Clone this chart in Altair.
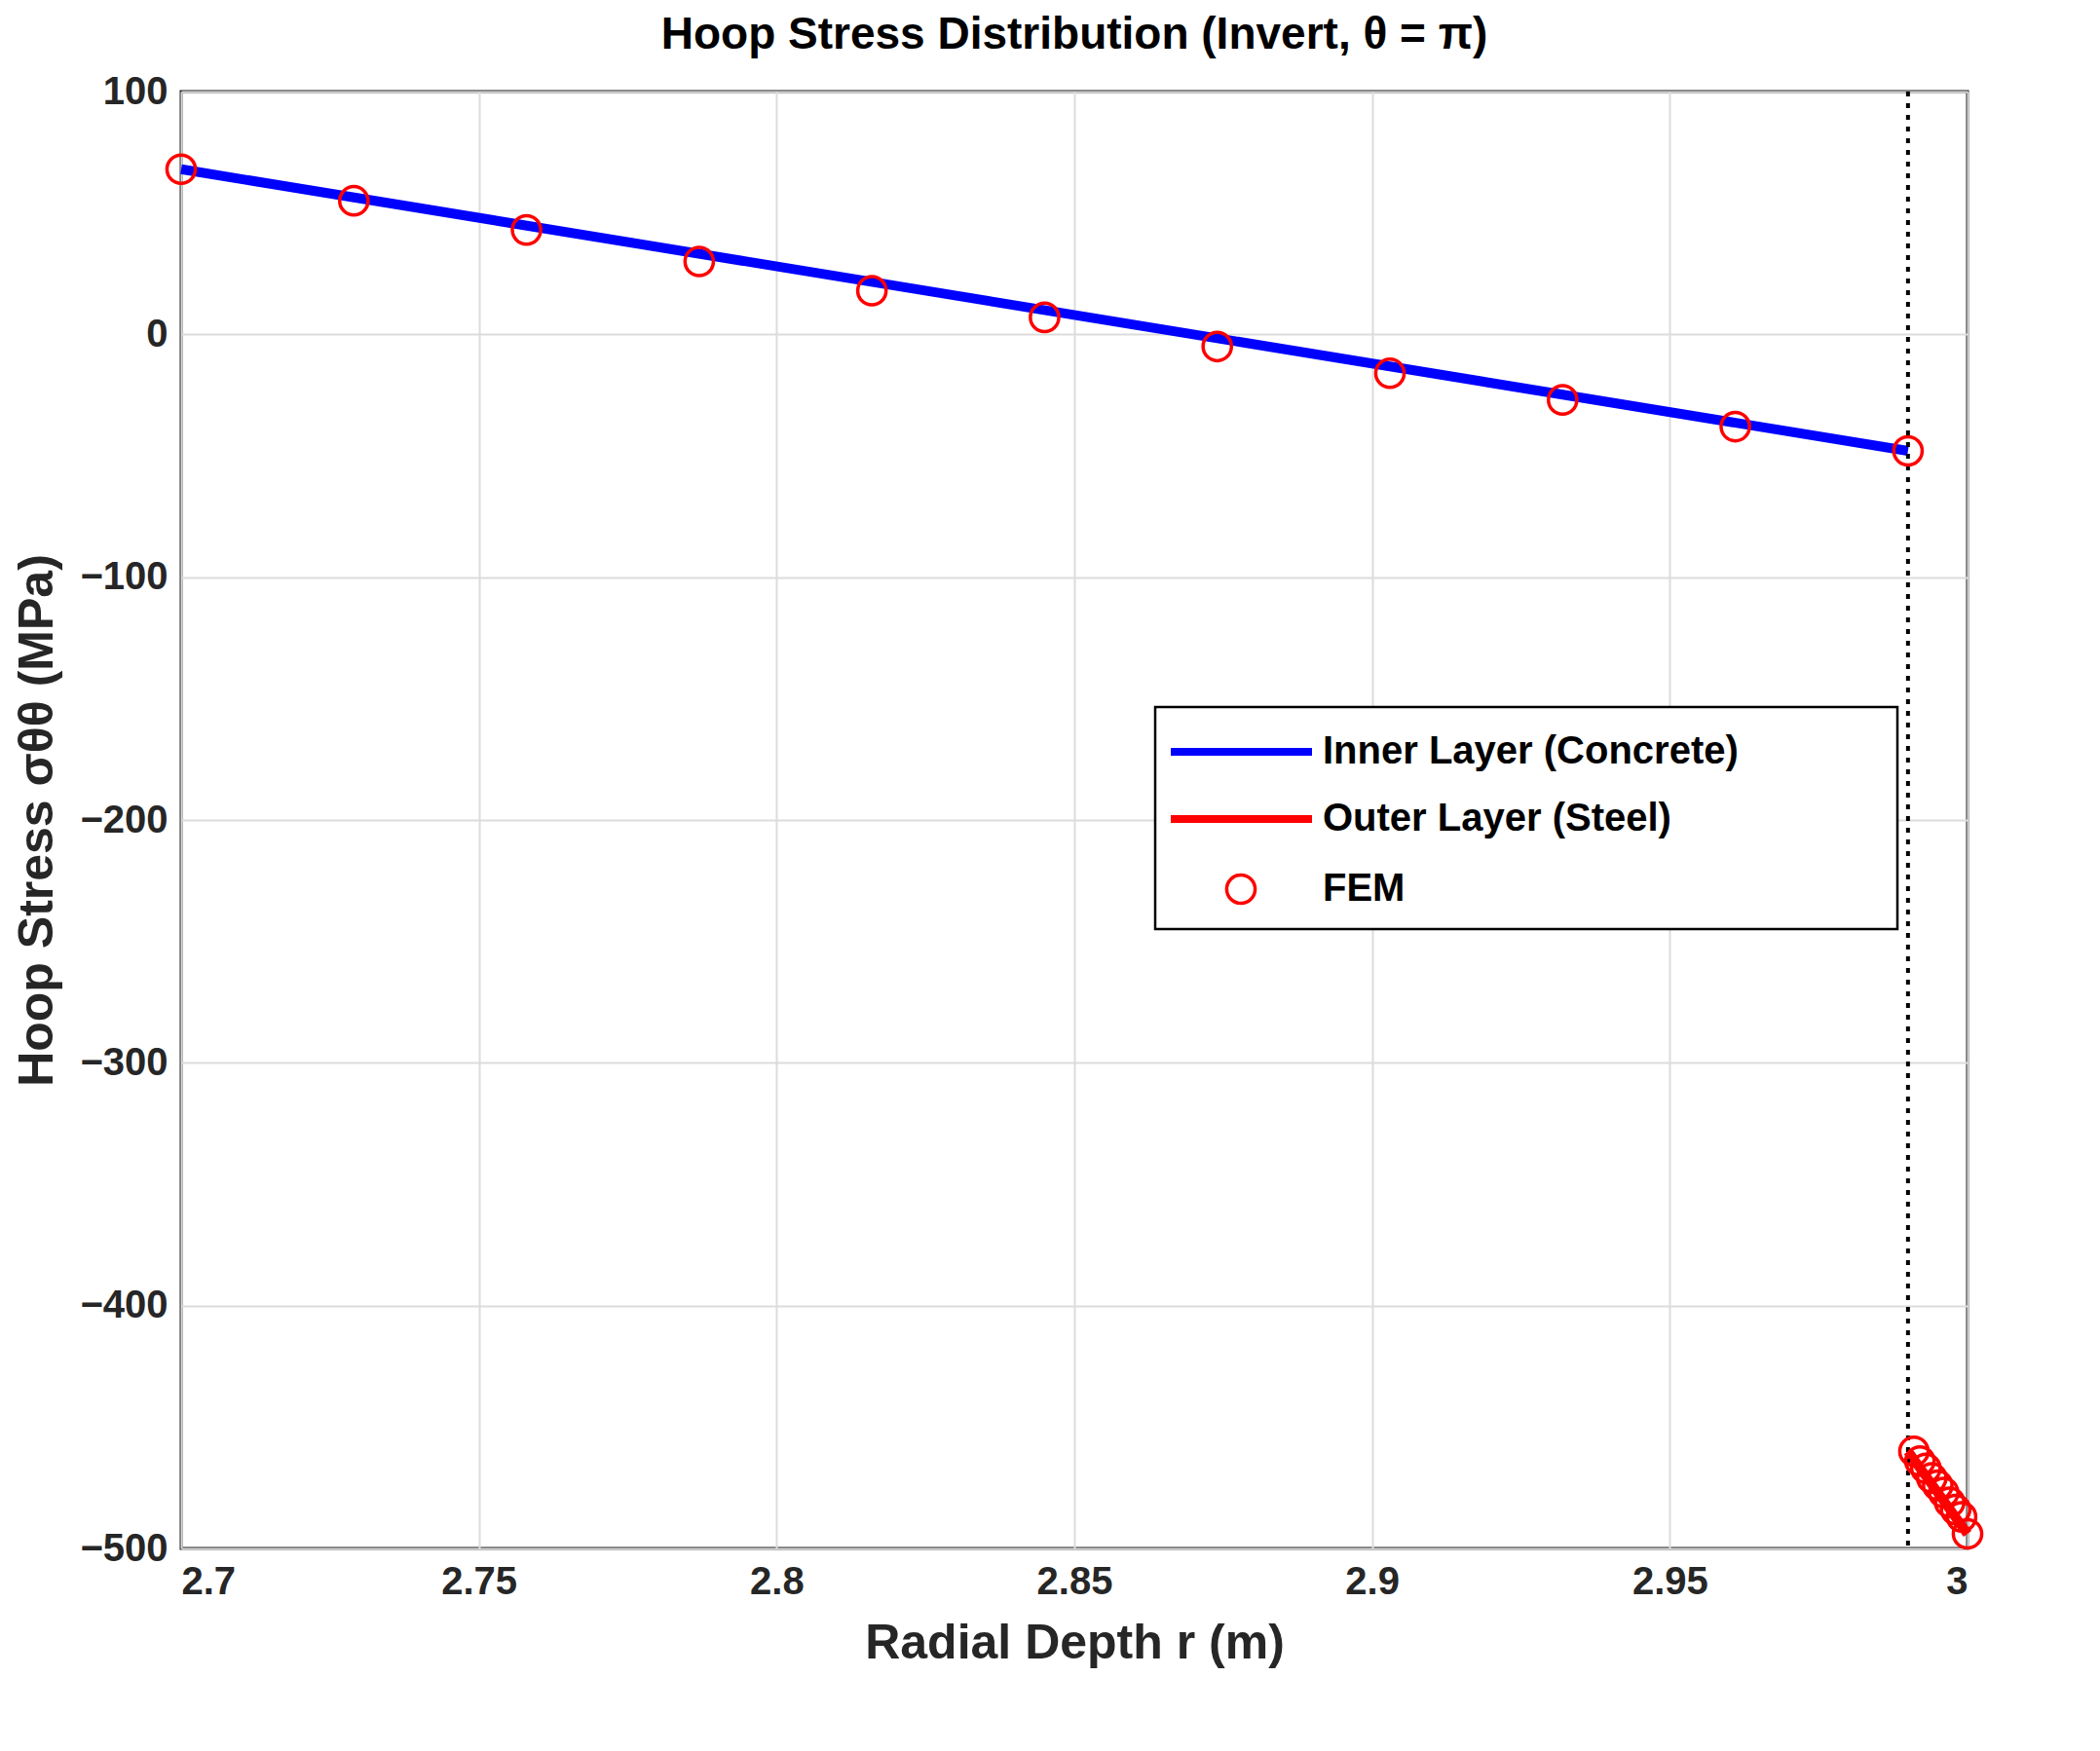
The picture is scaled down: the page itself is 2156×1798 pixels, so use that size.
import pandas as pd
import altair as alt

# analytical solution, inner (concrete) layer
r_inner = [2.70, 2.99]
s_inner = [68.0, -48.0]
# analytical solution, outer (steel) layer
r_outer = [2.99, 3.00]
s_outer = [-460.0, -494.0]
# FEM samples
r_fem = [2.700, 2.729, 2.758, 2.787, 2.816, 2.845, 2.874, 2.903, 2.932, 2.961, 2.990,
         2.991, 2.992, 2.993, 2.994, 2.995, 2.996, 2.997, 2.998, 2.999, 3.000]
s_fem = [68, 55, 43, 30, 18, 7, -5, -16, -27, -38, -48,
         -460, -464, -467, -471, -474, -477, -481, -484, -487, -494]
interface_r = 2.99

legend_labels = ["Inner Layer (Concrete)", "Outer Layer (Steel)", "FEM"]

FONT = "Liberation Sans"
W, H = 1834, 1496

x_sc = alt.Scale(domain=[2.7, 3.0], nice=False, zero=False)
y_sc = alt.Scale(domain=[-500, 100], nice=False, zero=False)
x_ax = alt.Axis(values=[2.7, 2.75, 2.8, 2.85, 2.9, 2.95, 3.0], labelExpr="format(datum.value, '~g')",
                title="Radial Depth   r (m)")
y_ax = alt.Axis(values=[100, 0, -100, -200, -300, -400, -500], title="Hoop Stress σθθ (MPa)")

inner = alt.Chart(pd.DataFrame({"r": r_inner, "s": s_inner})).mark_line(
    color="#0000ff", strokeWidth=10).encode(
    x=alt.X("r:Q", scale=x_sc, axis=x_ax), y=alt.Y("s:Q", scale=y_sc, axis=y_ax))
outer = alt.Chart(pd.DataFrame({"r": r_outer, "s": s_outer})).mark_line(
    color="#ff0000", strokeWidth=10).encode(x=alt.X("r:Q", scale=x_sc), y=alt.Y("s:Q", scale=y_sc))
iface = alt.Chart(pd.DataFrame({"r": [interface_r]})).mark_rule(
    color="black", strokeWidth=4, strokeDash=[5, 7]).encode(x=alt.X("r:Q", scale=x_sc))
fem = alt.Chart(pd.DataFrame({"r": r_fem, "s": s_fem})).mark_point(
    shape="circle", size=850, color="#ff0000", strokeWidth=3.5, filled=False, clip=False,
    opacity=1).encode(x=alt.X("r:Q", scale=x_sc), y=alt.Y("s:Q", scale=y_sc))

# legend box drawn in plot pixels
lg = pd.DataFrame({"label": legend_labels, "y": [678, 747, 819]})
box = alt.Chart(pd.DataFrame({"a": [0]})).mark_rect(
    fill="white", stroke="black", strokeWidth=2.5).encode(
    x=alt.value(1000), x2=alt.value(1762), y=alt.value(632), y2=alt.value(860))
l1 = alt.Chart(pd.DataFrame({"a": [0]})).mark_rule(color="#0000ff", strokeWidth=8).encode(
    x=alt.value(1016), x2=alt.value(1161), y=alt.value(678))
l2 = alt.Chart(pd.DataFrame({"a": [0]})).mark_rule(color="#ff0000", strokeWidth=8).encode(
    x=alt.value(1016), x2=alt.value(1161), y=alt.value(747))
l3 = alt.Chart(pd.DataFrame({"a": [0]})).mark_point(
    shape="circle", size=850, color="#ff0000", strokeWidth=3.5, filled=False, opacity=1).encode(
    x=alt.value(1088), y=alt.value(819))
ltext = alt.Chart(lg).mark_text(align="left", baseline="middle", font=FONT, fontSize=40,
                                fontWeight="bold", color="black").encode(
    x=alt.value(1172), y=alt.Y("y:Q", scale=None), text="label:N")

chart = alt.layer(inner, outer, iface, fem, box, l1, l2, l3, ltext).properties(
    width=W, height=H, background="white",
    title=alt.TitleParams("Hoop Stress Distribution (Invert, θ = π)", font=FONT, fontSize=46,
                          fontWeight="bold", color="black", offset=14),
).configure_view(stroke="#262626", strokeWidth=3).configure_axis(
    labelFont=FONT, labelFontSize=40, labelFontWeight="bold", labelColor="#262626",
    titleFont=FONT, titleFontSize=50, titleFontWeight="bold", titleColor="#262626",
    grid=True, gridColor="#dcdcdc", gridWidth=2, domain=False, ticks=False,
    labelPadding=14, titlePadding=18,
)

chart.save("out.html", embed_options={"renderer": "svg", "actions": False})
